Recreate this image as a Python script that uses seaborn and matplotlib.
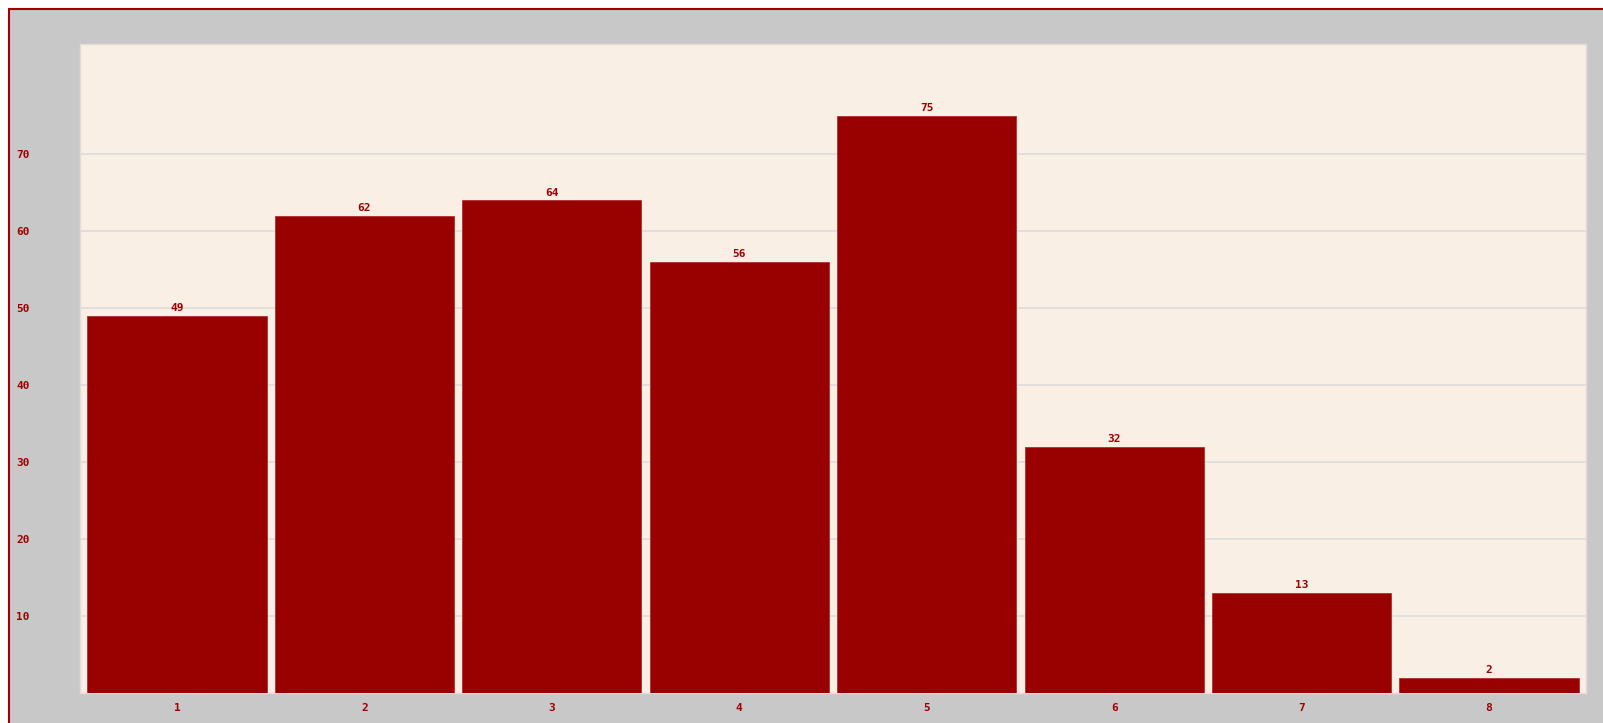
import matplotlib
matplotlib.use("Agg")
import matplotlib.pyplot as plt
from matplotlib.patches import Rectangle
from matplotlib.lines import Line2D
import seaborn as sns
import pandas as pd

categories = ["1", "2", "3", "4", "5", "6", "7", "8"]
values = [49, 62, 64, 56, 75, 32, 13, 2]
yticks = [10, 20, 30, 40, 50, 60, 70]

sns.set_theme(style="white")
plt.rcParams['font.family'] = ['DejaVu Sans Mono', 'DejaVu Sans']

W, H = 1603, 723
fig = plt.figure(figsize=(W / 100, H / 100), dpi=100)
fig.patch.set_facecolor("white")

# gray panel with red top/left border
fig.add_artist(Rectangle((9 / W, 0), 1 - 9 / W, 1 - 9 / H, transform=fig.transFigure,
                         facecolor="#c8c8c8", edgecolor="none", zorder=-10))
fig.add_artist(Line2D([8.5 / W, 1], [1 - 8.5 / H, 1 - 8.5 / H], transform=fig.transFigure,
                      color="#a00000", lw=1.5, zorder=-5))
fig.add_artist(Line2D([8.5 / W, 8.5 / W], [0, 1 - 8.5 / H], transform=fig.transFigure,
                      color="#a00000", lw=1.5, zorder=-5))

left, right, top, bottom = 80, 1586, 44, 693
ax = fig.add_axes([left / W, 1 - bottom / H, (right - left) / W, (bottom - top) / H])
ax.set_facecolor("#f9efe5")

df = pd.DataFrame({"cat": categories, "val": values})
sns.barplot(data=df, x="cat", y="val", ax=ax, color="#990000", saturation=1,
            width=0.956, edgecolor="#b03030", linewidth=0.6, zorder=3)

ax.set_xlim(-0.517, 7.517)
ax.set_ylim(0, 84.3)
ax.set_yticks(yticks)
ax.yaxis.grid(True, color="#dcdcdc", linewidth=1.2, zorder=0)
ax.set_axisbelow(True)
for s in ax.spines.values():
    s.set_color("#e2dcd8")
    s.set_linewidth(1)

ax.tick_params(axis="y", length=0, pad=46, labelsize=8, labelcolor="#a00000")
ax.tick_params(axis="x", length=0, pad=7, labelsize=8, labelcolor="#a00000")
for lab in ax.get_yticklabels() + ax.get_xticklabels():
    lab.set_fontweight("bold")
for lab in ax.get_yticklabels():
    lab.set_horizontalalignment("left")
ax.set_xlabel("")
ax.set_ylabel("")

for i, v in enumerate(values):
    ax.annotate(str(v), (i, v), xytext=(0, 2), textcoords="offset points",
                ha="center", va="bottom", fontsize=8, color="#a00000", fontweight="bold")

fig.savefig("out.png", dpi=100, facecolor=fig.get_facecolor())
